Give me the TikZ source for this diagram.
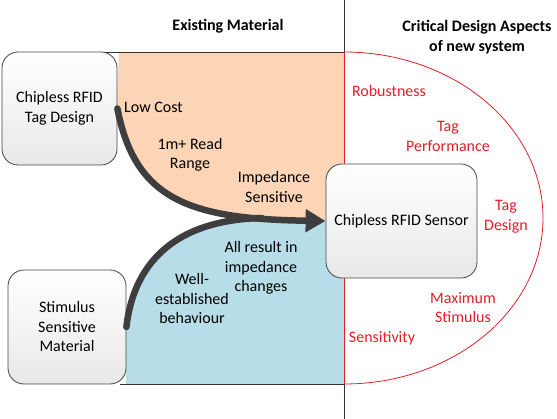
\documentclass[tikz,border=0pt]{standalone}
\usepackage{fontspec}
\setmainfont{Carlito}
\usetikzlibrary{arrows.meta}
\definecolor{peach}{RGB}{251,213,181}
\definecolor{aqua}{RGB}{183,221,232}
\definecolor{redtxt}{RGB}{226,30,40}
\definecolor{arrowgray}{RGB}{62,62,62}
\definecolor{edgegray}{RGB}{70,70,70}
\tikzset{
  txt/.style={font=\fontsize{16}{19.5}\selectfont, align=center, inner sep=0pt, text=black},
  hdr/.style={txt, font=\fontsize{16}{19.5}\selectfont\bfseries},
  rtxt/.style={txt, text=redtxt},
  box/.style={txt, draw=edgegray, line width=0.8pt, rounded corners=16pt, top color=white, bottom color=black!9},
  flow/.style={draw=arrowgray, line width=6.5pt},
  frame/.style={draw=black!80, line width=0.8pt},
  redline/.style={draw=redtxt, line width=0.8pt}
}
\begin{document}
\begin{tikzpicture}[x=1pt,y=-1pt]
\useasboundingbox (0,0) rectangle (557,419);
% regions
\fill[peach] (119,52) -- (344,52) -- (344,222) -- (318,220) .. controls (190,220) and (135,200) .. (117,108) -- cycle;
\fill[aqua] (126,384) -- (344,384) -- (344,222) -- (260,219) .. controls (170,222) and (133,268) .. (125,328) -- cycle;
% frame lines
\draw[frame] (100,52) -- (344,52);
\draw[frame] (120,384) -- (344,384);
\draw[frame] (344,0) -- (344,52);
\draw[frame] (344,384) -- (344,419);
\draw[redline] (344,52) -- (344,384);
\draw[redline] (344,52) arc[start angle=90, end angle=-90, x radius=199pt, y radius=166pt];
% boxes
\node[box, minimum width=115pt, minimum height=113pt] (tag) at (59.5,108.5) {Chipless RFID\\Tag Design};
\node[box, minimum width=118pt, minimum height=114pt] (stim) at (67,327) {Stimulus\\Sensitive\\Material};
\node[box, minimum width=151pt, minimum height=114pt] (sensor) at (401.5,221) {Chipless RFID Sensor};
% connectors
\coordinate (merge) at (262,218);
\draw[flow, line cap=round] (stim.east) .. controls (133,268) and (170,220) .. (merge);
\draw[flow, line cap=round, -{Triangle[length=20pt,width=22pt]}] (tag.east) .. controls (135,200) and (190,219) .. (sensor.west);
% headers
\node[hdr] (h1) at (228,26) {Existing Material};
\node[hdr] (h2) at (477,37) {Critical Design Aspects\\of new system};
% labels
\node[txt, anchor=west] (l1) at (124,107) {Low Cost};
\node[txt] (l2) at (190,155) {1m+ Read\\Range};
\node[txt] (l3) at (274,187) {Impedance\\Sensitive};
\node[txt] (l4) at (261,268) {All result in\\impedance\\changes};
\node[txt] (l5) at (192,299) {Well-\\established\\behaviour};
% red labels
\node[rtxt] (r1) at (389,91) {Robustness};
\node[rtxt] (r2) at (448,136.5) {Tag\\Performance};
\node[rtxt] (r3) at (506,216.5) {Tag\\Design};
\node[rtxt] (r4) at (463,307.5) {Maximum\\Stimulus};
\node[rtxt] (r5) at (382,338) {Sensitivity};
\end{tikzpicture}
\end{document}
